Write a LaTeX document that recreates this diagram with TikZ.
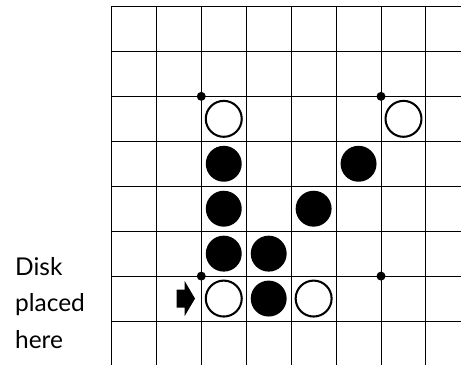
\documentclass[tikz,border=0pt]{standalone}
\usepackage{fontspec}
\newfontfamily\legende{Lato}
\newcommand{\noir}[1]{\fill (#1) circle (2/5)}
\newcommand{\blanc}[1]{\draw[line width=1.3pt] (#1) circle (2/5)}
\newcommand{\point}[1]{\fill (#1) circle (1/10)}
\newcommand{\fleche}[1]{\fill (#1) ++(-0.41,0.2) --++ (0.18,0) --++ (0,0.19)
	--++ (0.23,-0.39) --++ (-0.23,-0.39) --++ (0,0.19) --++ (-0.18,0) -- cycle}

\begin{document}
\begin{tikzpicture}[x=1cm,y=1cm]
\useasboundingbox (-2.48,-7.98) rectangle (7.78,0.145);
%Grid
	\foreach \i in {0,...,7}
		\draw[line width=0.65pt] (\i,0) -- (\i,-7.98);
	\foreach \j in {0,...,7}
		\draw[line width=0.65pt] (0,-\j) -- (7.78,-\j);
%Marks
	\point{2,-2};
	\point{6,-2};
	\point{2,-6};
	\point{6,-6};
%White disks
	\blanc{2.5,-2.5};
	\blanc{6.5,-2.5};
	\blanc{2.5,-6.5};
	\blanc{4.5,-6.5};
%Black disks
	\noir{2.5,-3.5};
	\noir{5.5,-3.5};
	\noir{2.5,-4.5};
	\noir{4.5,-4.5};
	\noir{2.5,-5.5};
	\noir{3.5,-5.5};
	\noir{3.5,-6.5};
%Disk placed here
	\fleche{1.86,-6.5};
	\node[anchor=north west, inner sep=0pt, align=left,
		font=\legende\fontsize{15.5}{23}\selectfont] (legend) at (-2.15,-5.58)
		{Disk\\placed\\here};
\end{tikzpicture}
\end{document}
